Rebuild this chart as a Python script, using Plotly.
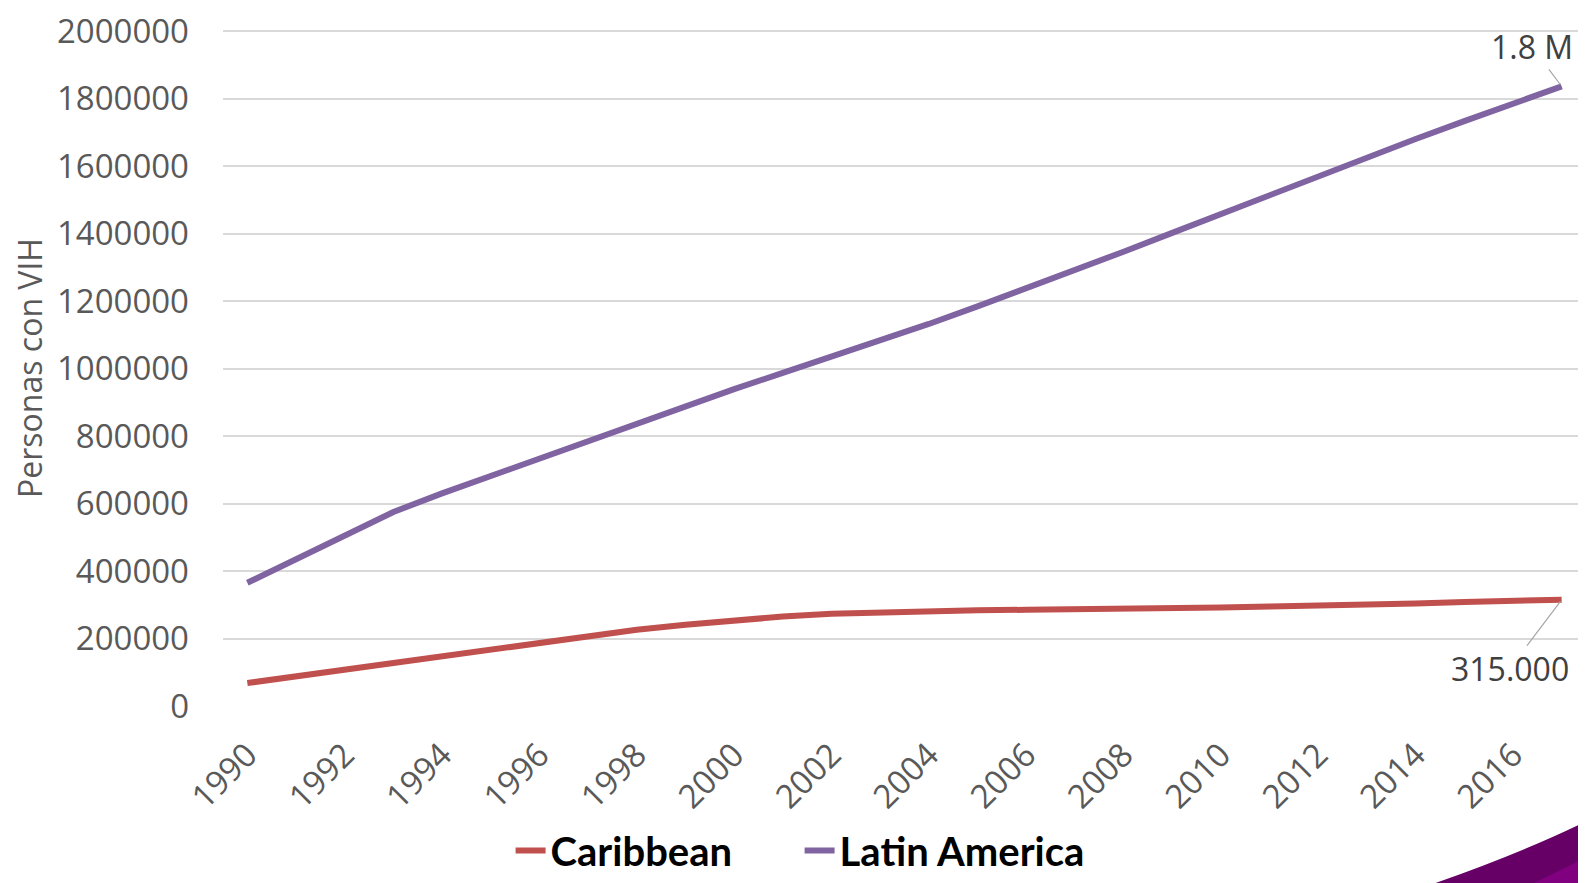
import plotly.graph_objects as go

years = list(range(1990, 2018))
caribbean = [68000, 88000, 108000, 128000, 149000, 170000, 190000, 208000, 226000, 241000,
             255000, 265000, 273000, 278000, 282000, 284000, 285000, 286000, 288000, 290000,
             292000, 295000, 297000, 300000, 304000, 308000, 311000, 315000]
latin_america = [365000, 435000, 505000, 575000, 630000, 682000, 731000, 785000, 838000, 888000,
                 939000, 987000, 1035000, 1083000, 1132000, 1184000, 1237000, 1291000, 1346000, 1402000,
                 1458000, 1515000, 1572000, 1625000, 1680000, 1733000, 1785000, 1836000]
x_ticks = list(range(1990, 2017, 2))
y_ticks = list(range(0, 2000001, 200000))

FONT = "Open Sans"
fig = go.Figure()
fig.add_trace(go.Scatter(x=years, y=caribbean, mode="lines", name="Caribbean",
                         line=dict(color="#C0504D", width=6)))
fig.add_trace(go.Scatter(x=years, y=latin_america, mode="lines", name="Latin America",
                         line=dict(color="#8064A2", width=6)))

fig.add_annotation(x=years[-1], y=latin_america[-1], text="1.8 M", showarrow=True,
                   arrowhead=0, arrowwidth=1.2, arrowcolor="#A6A6A6", ax=-30, ay=-40,
                   standoff=2, font=dict(family=FONT, size=32, color="#404040"))
fig.add_annotation(x=years[-1], y=caribbean[-1], text="315.000", showarrow=True,
                   arrowhead=0, arrowwidth=1.2, arrowcolor="#A6A6A6", ax=-52, ay=69,
                   standoff=2, font=dict(family=FONT, size=32, color="#404040"))

# decorative purple corner
fig.add_shape(type="path", xref="paper", yref="paper",
              path="M 0.878 -0.27 Q 0.95 -0.22 1.0 -0.1706 L 1.0 -0.27 Z",
              fillcolor="#660066", line=dict(width=0), layer="above")
fig.add_shape(type="path", xref="paper", yref="paper",
              path="M 0.953 -0.27 Q 0.98 -0.245 1.0 -0.2235 L 1.0 -0.27 Z",
              fillcolor="#800080", line=dict(width=0), layer="above")

fig.update_layout(
    template="none",
    width=1578, height=875,
    margin=dict(l=215, r=0, t=22, b=177, autoexpand=False),
    paper_bgcolor="white", plot_bgcolor="white",
    font=dict(family=FONT, color="#595959"),
    showlegend=True,
    legend=dict(orientation="h", x=0.211, xanchor="left", y=-0.262, yanchor="bottom",
                entrywidth=244, entrywidthmode="pixels",
                font=dict(family="Lato", size=40, color="black", weight="bold"),
                bgcolor="rgba(0,0,0,0)"),
    xaxis=dict(range=[1989.5, 2017.5], tickmode="array", tickvals=x_ticks,
               ticktext=[str(v) for v in x_ticks], tickangle=-45,
               tickfont=dict(family=FONT, size=33, color="#595959"),
               showgrid=False, zeroline=False, showline=False, ticks="",
               ticklabelstandoff=22, automargin=False, ticklabeloverflow="allow"),
    yaxis=dict(range=[0, 2003000], tickmode="array", tickvals=y_ticks,
               ticktext=[str(v) for v in y_ticks],
               tickfont=dict(family=FONT, size=33, color="#595959"),
               showgrid=True, gridcolor="#D9D9D9", gridwidth=1.5,
               zeroline=False, showline=False, ticks="", ticklabelstandoff=33,
               automargin=False, ticklabeloverflow="allow",
               title=dict(text="Personas con VIH", standoff=14,
                          font=dict(family=FONT, size=32, color="#595959"))),
)

fig.write_html("out.html")
